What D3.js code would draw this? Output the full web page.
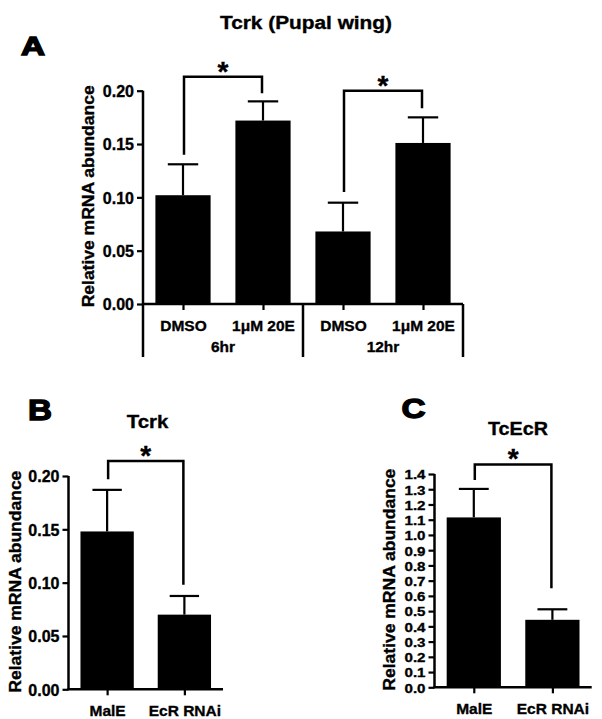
<!DOCTYPE html>
<html><head><meta charset="utf-8">
<script src="https://cdn.jsdelivr.net/npm/d3@7"></script>
<style>
body{margin:0;background:#fff;}
text{font-family:"Liberation Sans",Arial,sans-serif;font-weight:bold;fill:#000;stroke:#000;stroke-width:0.35px;}
</style></head>
<body>
<svg id="chart" width="602" height="719"></svg>
<script>
// ---- Panel A data ----
const catsA = ["DMSO", "1\u03bcM 20E", "DMSO", "1\u03bcM 20E"];
const groupsA = ["6hr", "12hr"];
const meansA = [0.102, 0.172, 0.068, 0.151];
const semA = [0.029, 0.018, 0.027, 0.024];
const ticksA = [0, 0.05, 0.10, 0.15, 0.20];
// brackets: [leftIdx, rightIdx, leftFoot, top, rightFoot]
const bracketsA = [[0, 1, 0.140, 0.213, 0.1975], [2, 3, 0.105, 0.200, 0.1835]];

// ---- Panel B data ----
const catsB = ["MalE", "EcR RNAi"];
const meansB = [0.148, 0.070];
const semB = [0.039, 0.0175];
const ticksB = [0, 0.05, 0.10, 0.15, 0.20];
const bracketsB = [[0, 1, 0.197, 0.214, 0.098]];

// ---- Panel C data ----
const catsC = ["MalE", "EcR RNAi"];
const meansC = [1.115, 0.443];
const semC = [0.187, 0.069];
const ticksC = [0, 0.1, 0.2, 0.3, 0.4, 0.5, 0.6, 0.7, 0.8, 0.9, 1.0, 1.1, 1.2, 1.3, 1.4];
const bracketsC = [[0, 1, 1.36, 1.463, 0.65]];

const svg = d3.select("#chart");

function panel(cfg) {
  const g = svg.append("g");
  const x = d3.scalePoint().domain(d3.range(cfg.cats.length)).range([cfg.x0, cfg.x1]).padding(0.5);
  const y = d3.scaleLinear().domain([0, cfg.ymax]).range([cfg.y0, cfg.y1]);
  const step = x.step();
  const bw = step * 0.69;

  // bars
  g.selectAll("rect.bar").data(cfg.means).join("rect")
    .attr("x", (d, i) => x(i) - bw / 2).attr("y", d => y(d))
    .attr("width", bw).attr("height", d => y(0) - y(d)).attr("fill", "#000");

  // error bars
  const eb = g.selectAll("g.eb").data(cfg.means).join("g");
  eb.append("line").attr("x1", (d, i) => x(i)).attr("x2", (d, i) => x(i))
    .attr("y1", d => y(d)).attr("y2", (d, i) => y(d + cfg.sem[i]))
    .attr("stroke", "#000").attr("stroke-width", 2.2);
  eb.append("line").attr("x1", (d, i) => x(i) - step * 0.19).attr("x2", (d, i) => x(i) + step * 0.19)
    .attr("y1", (d, i) => y(d + cfg.sem[i])).attr("y2", (d, i) => y(d + cfg.sem[i]))
    .attr("stroke", "#000").attr("stroke-width", 2.2);

  // y axis
  const ya = g.append("g").attr("transform", `translate(${cfg.x0},0)`)
    .call(d3.axisLeft(y).tickValues(cfg.ticks).tickFormat(d3.format(cfg.fmt)).tickSize(6).tickSizeOuter(0).tickPadding(3));
  ya.select(".domain").attr("stroke-width", 2.5).attr("d", `M0,${y(cfg.ymax)}V${y(0)}`);
  ya.selectAll(".tick line").attr("stroke-width", 2.2);
  const yt = ya.selectAll(".tick text").style("font-size", cfg.tickFont + "px").attr("font-family", null).attr("dy", "0.36em");
  if (cfg.tickLen) yt.attr("textLength", cfg.tickLen).attr("lengthAdjust", "spacingAndGlyphs");

  // x axis
  const xa = g.append("g").attr("transform", `translate(0,${y(0)})`)
    .call(d3.axisBottom(x).tickFormat(i => cfg.cats[i]).tickSize(6).tickSizeOuter(0).tickPadding(10));
  xa.select(".domain").attr("stroke-width", 2.5).attr("d", `M${cfg.x0 - 1},0H${cfg.x1}`);
  xa.selectAll(".tick line").attr("stroke-width", 2.2);
  xa.selectAll(".tick text").style("font-size", "15.5px").attr("font-family", null).attr("dy", "0.71em");

  // y title
  const ymid = (y(0) + y(cfg.ymax)) / 2 - 1;
  g.append("text").attr("transform", `translate(${cfg.ytx},${ymid}) rotate(-90)`)
    .attr("text-anchor", "middle").style("font-size", "16px")
    .attr("textLength", 222).attr("lengthAdjust", "spacingAndGlyphs")
    .text("Relative mRNA abundance");

  // title
  g.append("text").attr("x", cfg.tx).attr("y", cfg.ty).attr("text-anchor", "middle")
    .style("font-size", cfg.tFont + "px").attr("textLength", cfg.tLen).attr("lengthAdjust", "spacingAndGlyphs")
    .text(cfg.title);

  // panel letter
  g.append("text").attr("x", cfg.lx).attr("y", cfg.ly).style("font-size", cfg.lFont + "px")
    .style("stroke-width", "1.4px")
    .attr("textLength", 24).attr("lengthAdjust", "spacingAndGlyphs").text(cfg.letter);

  // significance brackets
  cfg.brackets.forEach(b => {
    const xl = x(b[0]) + 1, xr = x(b[1]) - 1;
    g.append("path").attr("fill", "none").attr("stroke", "#000").attr("stroke-width", 2.5)
      .attr("d", `M${xl},${y(b[2])}V${y(b[3])}H${xr}V${y(b[4])}`);
    g.append("text").attr("x", (xl + xr) / 2).attr("y", y(b[3]) + 4)
      .attr("text-anchor", "middle").style("font-size", "28px").text("*");
  });
  return {x, y, g};
}

// Panel A
const pA = panel({cats: catsA, means: meansA, sem: semA, ticks: ticksA, ymax: 0.20, fmt: ".2f",
  x0: 143, x1: 463, y0: 304, y1: 90.7, tickFont: 16, ytx: 94,
  title: "Tcrk (Pupal wing)", tx: 306, ty: 29, tFont: 18, tLen: 172,
  letter: "A", lx: 21, ly: 55, lFont: 26, brackets: bracketsA});

// group separators and group labels for A
const sepX = [143, 303, 463];
pA.g.selectAll("line.sep").data(sepX).join("line")
  .attr("x1", d => d).attr("x2", d => d).attr("y1", pA.y(0)).attr("y2", 357)
  .attr("stroke", "#000").attr("stroke-width", 2.5);
pA.g.selectAll("text.grp").data(groupsA).join("text")
  .attr("x", (d, i) => (pA.x(2 * i) + pA.x(2 * i + 1)) / 2).attr("y", 352)
  .attr("text-anchor", "middle").style("font-size", "15.5px").text(d => d);

// Panel B
panel({cats: catsB, means: meansB, sem: semB, ticks: ticksB, ymax: 0.20, fmt: ".2f",
  x0: 68.5, x1: 223, y0: 689.3, y1: 476, tickFont: 16, ytx: 20.7,
  title: "Tcrk", tx: 147.5, ty: 428.3, tFont: 19, tLen: 41.6,
  letter: "B", lx: 28, ly: 420, lFont: 30, brackets: bracketsB});

// Panel C
panel({cats: catsC, means: meansC, sem: semC, ticks: ticksC, ymax: 1.4, fmt: ".1f",
  x0: 434.5, x1: 591.7, y0: 687.3, y1: 474, tickFont: 13.4, tickLen: 21, ytx: 395,
  title: "TcEcR", tx: 518, ty: 435, tFont: 19, tLen: 60,
  letter: "C", lx: 401.5, ly: 418, lFont: 28, brackets: bracketsC});
</script>
</body></html>
